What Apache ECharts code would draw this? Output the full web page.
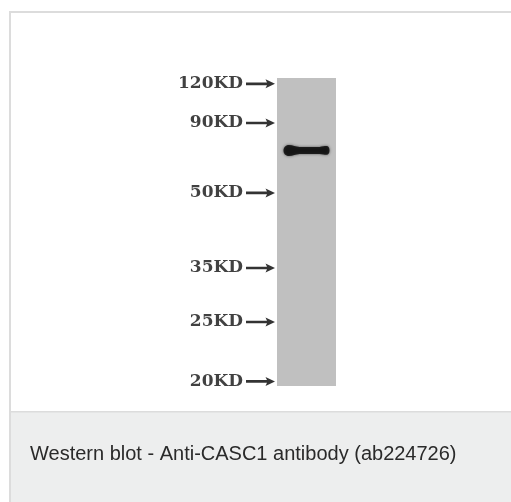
<!DOCTYPE html>
<html>
<head>
<meta charset="utf-8">
<script src="https://cdn.jsdelivr.net/npm/echarts@6/dist/echarts.min.js"></script>
<style>html,body{margin:0;padding:0;background:#fff;}#c{width:511px;height:502px;}</style>
</head>
<body>
<div id="c"></div>
<script>
// Lanes / categories
const columns = ['marker', 'lane'];
// Molecular-weight ladder (labels) and their migration (0 = top of lane, 100 = bottom)
const markerLabels = ['120KD', '90KD', '50KD', '35KD', '25KD', '20KD'];
const markerMigration = [1.9, 14.6, 37.3, 61.7, 79.2, 98.5];
// Lane extent (migration units)
const laneLength = [100];
// Detected band (Anti-CASC1), migration
const bandMigration = [23.5];
const caption = 'Western blot - Anti-CASC1 antibody (ab224726)';

const chart = echarts.init(document.getElementById('c'), null, {renderer: 'canvas'});
const bandPath = 'path://M5.5,0 C2,0 0,2.5 0,5.5 C0,8.5 2,11 5.5,11 C9.5,11 12,9.2 16,9 L36,9 C39,9.3 41,9.8 43,9.8 C45,9.8 46,7.8 46,5.5 C46,3.2 45,1.2 43,1.2 C41,1.2 39,1.7 36,2 L16,2 C12,1.8 9.5,0 5.5,0 Z';
const arrowPath = 'path://M0,3.2 L21,3.2 L19.5,0 L29,4.5 L19.5,9 L21,5.8 L0,5.8 Z';

chart.setOption({
  animation: false,
  backgroundColor: '#ffffff',
  graphic: [
    {type: 'rect', z: -10, shape: {x: 10, y: 12, width: 520, height: 520}, style: {fill: '#ffffff', stroke: '#dcdcdc', lineWidth: 2}},
    {type: 'rect', z: -9, shape: {x: 11, y: 412, width: 520, height: 100}, style: {fill: '#edeeee'}},
    {type: 'rect', z: -8, shape: {x: 11, y: 411, width: 520, height: 1.5}, style: {fill: '#dcdcdc'}}
  ],
  title: {
    text: caption,
    left: 30, top: 444, padding: 0,
    textStyle: {fontFamily: 'Liberation Sans, Arial, sans-serif', fontSize: 20, fontWeight: 'normal', color: '#2a2a2a'}
  },
  grid: {left: 216.5, right: 511 - 336.5, top: 78, bottom: 502 - 386},
  xAxis: {type: 'category', data: columns, show: false},
  yAxis: {type: 'value', inverse: true, min: 0, max: 100, show: false},
  series: [
    {
      type: 'bar', barWidth: 59, silent: true,
      data: [null, laneLength[0]],
      itemStyle: {color: '#c0c0c0'}
    },
    {
      type: 'scatter', symbol: arrowPath, symbolSize: [29, 9], symbolOffset: [14, 0], silent: true,
      data: markerMigration.map((m, i) => ({value: ['marker', m], name: markerLabels[i]})),
      itemStyle: {color: '#000000'},
      label: {
        show: true, position: 'left', distance: 3,
        formatter: p => p.name,
        fontFamily: 'DejaVu Serif, serif', fontSize: 17, fontWeight: 'bold', color: '#111111'
      }
    },
    {
      type: 'scatter', symbol: bandPath, symbolSize: [46, 11], silent: true, z: 5,
      data: bandMigration.map(m => ['lane', m]),
      itemStyle: {color: '#050505', shadowBlur: 3, shadowColor: 'rgba(0,0,0,0.7)'}
    }
  ]
});
</script>
</body>
</html>
